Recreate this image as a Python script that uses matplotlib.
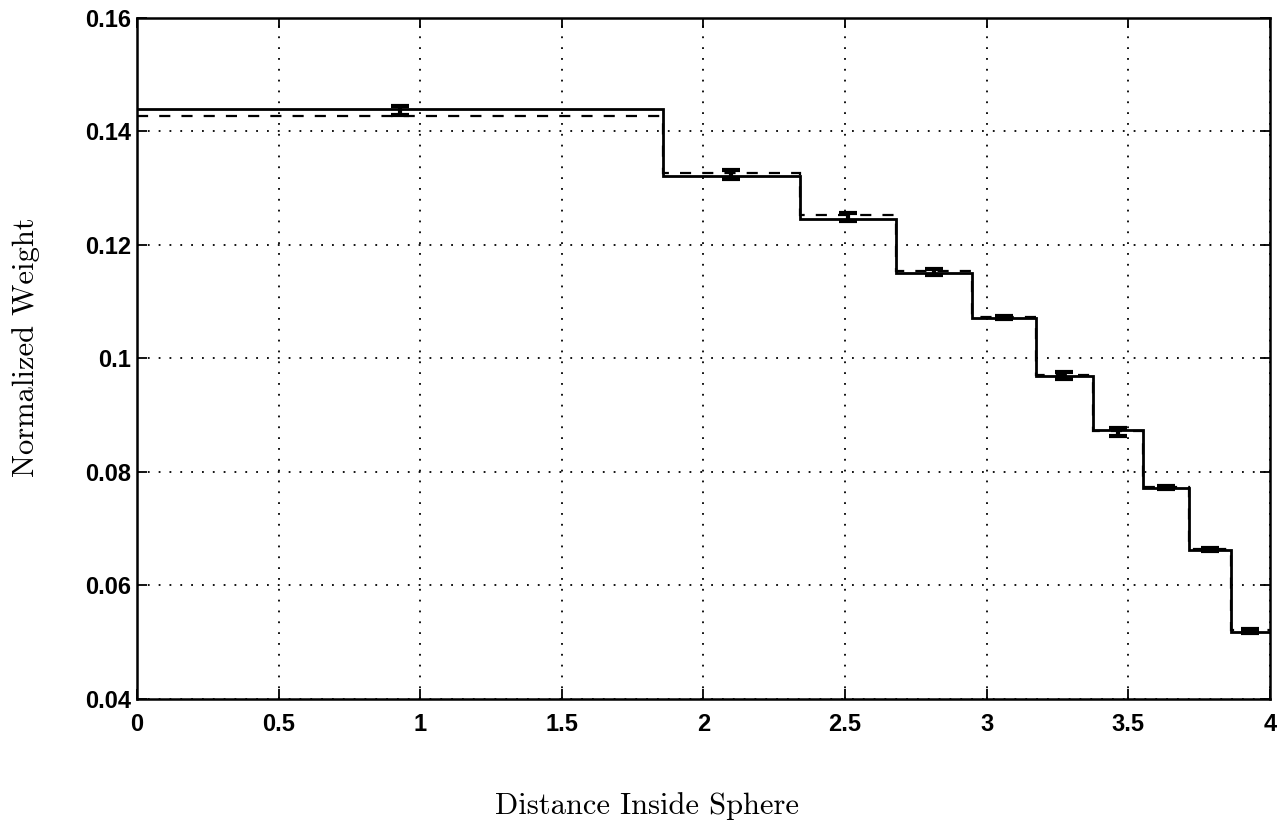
import numpy as np
import matplotlib
matplotlib.use("Agg")
import matplotlib.pyplot as plt

# Shell edges (distance inside sphere) and the two step curves.
edges = [0.0, 1.857, 2.339, 2.678, 2.947, 3.175, 3.374, 3.552, 3.713, 3.862, 4.0]
solid = [0.1440, 0.1322, 0.1245, 0.1151, 0.1072, 0.0969, 0.0874, 0.0772, 0.0663, 0.0518]
dashed = [0.1427, 0.1327, 0.1253, 0.1154, 0.1073, 0.0971, 0.0872, 0.0773, 0.0664, 0.0521]
# Sampled points with error bars.
pts = [0.1437, 0.1325, 0.1249, 0.1152, 0.1072, 0.0970, 0.0871, 0.0773, 0.0663, 0.0520]
errs = [0.0008, 0.0008, 0.0007, 0.0005, 0.0003, 0.0006, 0.0007, 0.0003, 0.0003, 0.0004]

xticks = [0, 0.5, 1, 1.5, 2, 2.5, 3, 3.5, 4]
xticklabels = ['0', '0.5', '1', '1.5', '2', '2.5', '3', '3.5', '4']
yticks = [0.04, 0.06, 0.08, 0.10, 0.12, 0.14, 0.16]
yticklabels = ['0.04', '0.06', '0.08', '0.1', '0.12', '0.14', '0.16']

centers = (np.array(edges[:-1]) + np.array(edges[1:])) / 2

fig = plt.figure(figsize=(12.82, 8.26), dpi=100)
ax = fig.add_axes([0.1069, 0.1538, 0.8837, 0.8244])

ax.stairs(solid, edges, color='black', linewidth=2.0, baseline=None)
ax.stairs(dashed, edges, color='black', linewidth=1.6, linestyle=(0, (5, 5)), baseline=None)
ax.errorbar(centers, pts, yerr=errs, fmt='none', ecolor='black',
            elinewidth=3, capsize=6.5, capthick=3)

ax.set_xlim(0, 4)
ax.set_ylim(0.04, 0.16)
ax.set_xticks(xticks)
ax.set_xticklabels(xticklabels)
ax.set_yticks(yticks)
ax.set_yticklabels(yticklabels)
ax.grid(True, linestyle=(0, (1, 5)), color='black', linewidth=1.3)

ax.tick_params(direction='in', length=7, width=1.3, top=True, right=True,
               labelsize=17)
ax.tick_params(axis='x', pad=10)
ax.tick_params(axis='y', pad=4)
for lab in ax.get_xticklabels() + ax.get_yticklabels():
    lab.set_fontfamily('Liberation Sans')
    lab.set_fontweight('bold')
for sp in ax.spines.values():
    sp.set_linewidth(1.8)

fig.text(0.505, 0.024, 'Distance Inside Sphere', ha='center', va='center',
         fontsize=22, family=['cmr10', 'DejaVu Serif'])
fig.text(0.020, 0.58, 'Normalized Weight', ha='center', va='center',
         rotation=90, fontsize=22, family=['cmr10', 'DejaVu Serif'])

fig.savefig('out.png', dpi=100, facecolor='white')
